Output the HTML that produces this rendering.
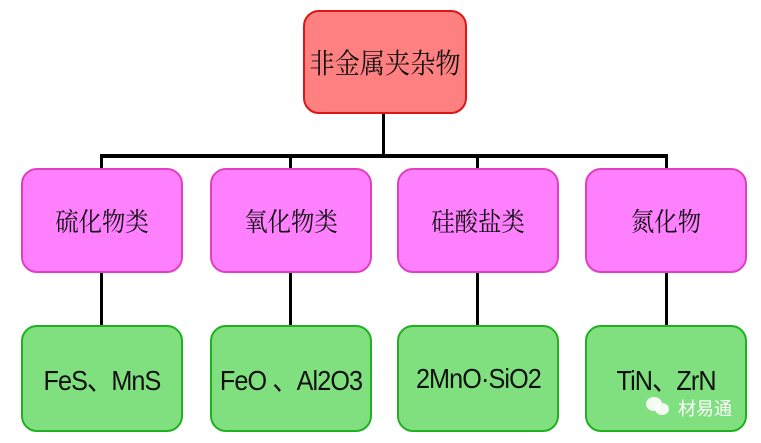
<!DOCTYPE html>
<html><head><meta charset="utf-8"><style>
body{margin:0;width:761px;height:443px;background:#fff;position:relative;overflow:hidden;font-family:"Liberation Sans","Noto Sans CJK SC",sans-serif}
.b{position:absolute;box-sizing:border-box;border-radius:16px;display:flex;align-items:center;justify-content:center;color:#111;white-space:nowrap}
.b span{display:inline-block;transform:scaleX(.9)}
.r{background:#ff8080;border:2px solid #e01515;font-family:"Noto Serif CJK SC",serif;font-size:28px}
.p{background:#ff80ff;border:2px solid #e040c0;font-family:"Noto Serif CJK SC",serif;font-size:26px;top:168px;height:105px;width:162px}
.g{background:#80e080;border:2px solid #20b020;font-size:28px;top:325px;height:107px;width:162px;letter-spacing:-1px}
.l{position:absolute;background:#000}
</style></head><body>
<div class="l" style="left:382px;top:112px;width:3px;height:44px"></div>
<div class="l" style="left:100px;top:154px;width:568px;height:4px"></div>
<div class="l" style="left:100px;top:154px;width:3px;height:16px"></div>
<div class="l" style="left:289px;top:154px;width:3px;height:16px"></div>
<div class="l" style="left:476px;top:154px;width:3px;height:16px"></div>
<div class="l" style="left:665px;top:154px;width:3px;height:16px"></div>
<div class="l" style="left:100px;top:272px;width:3px;height:55px"></div>
<div class="l" style="left:289px;top:272px;width:3px;height:55px"></div>
<div class="l" style="left:476px;top:272px;width:3px;height:55px"></div>
<div class="l" style="left:665px;top:272px;width:3px;height:55px"></div>
<div class="b r" style="left:303px;top:10px;width:164px;height:104px"><span>非金属夹杂物</span></div>
<div class="b p" style="left:21px"><span>硫化物类</span></div>
<div class="b p" style="left:210px"><span>氧化物类</span></div>
<div class="b p" style="left:397px"><span>硅酸盐类</span></div>
<div class="b p" style="left:585px"><span>氮化物</span></div>
<div class="b g" style="left:21px"><span>FeS、MnS</span></div>
<div class="b g" style="left:210px"><span>FeO 、Al2O3</span></div>
<div class="b g" style="left:397px"><span>2MnO·SiO2</span></div>
<div class="b g" style="left:585px"><span>TiN、ZrN</span></div>
<div style="position:absolute;left:646px;top:397px;width:16px;height:14px;border-radius:50%;background:#fff;opacity:.9"></div>
<div style="position:absolute;left:655px;top:403px;width:14px;height:12px;border-radius:50%;background:#fff;opacity:.9"></div>
<div style="position:absolute;left:678px;top:395px;color:#fff;font-size:18px;font-family:'Noto Sans CJK SC',sans-serif">材易通</div>
</body></html>
